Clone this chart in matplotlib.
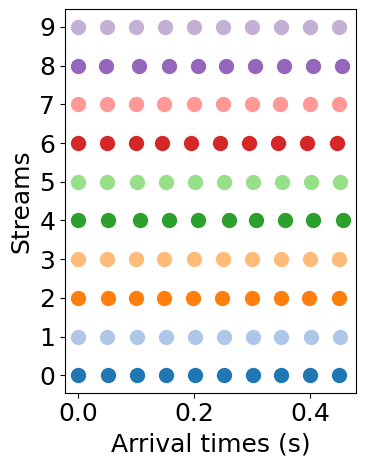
import matplotlib
matplotlib.use("Agg")
import matplotlib.pyplot as plt

streams = [0, 1, 2, 3, 4, 5, 6, 7, 8, 9]
arrivals = [
    [0.0, 0.052, 0.101, 0.151, 0.201, 0.251, 0.301, 0.349, 0.400, 0.450],  # 0
    [0.0, 0.050, 0.101, 0.151, 0.201, 0.251, 0.301, 0.350, 0.401, 0.451],  # 1
    [0.0, 0.052, 0.099, 0.148, 0.198, 0.248, 0.299, 0.349, 0.398, 0.449],  # 2
    [0.0, 0.049, 0.099, 0.148, 0.199, 0.249, 0.300, 0.350, 0.400, 0.449],  # 3
    [0.0, 0.052, 0.106, 0.156, 0.206, 0.260, 0.307, 0.356, 0.404, 0.456],  # 4
    [0.0, 0.050, 0.101, 0.151, 0.201, 0.251, 0.302, 0.351, 0.401, 0.451],  # 5
    [0.0, 0.049, 0.099, 0.144, 0.194, 0.245, 0.294, 0.344, 0.394, 0.446],  # 6
    [0.0, 0.050, 0.099, 0.148, 0.199, 0.249, 0.299, 0.348, 0.399, 0.450],  # 7
    [0.0, 0.048, 0.104, 0.156, 0.206, 0.255, 0.304, 0.354, 0.405, 0.455],  # 8
    [0.0, 0.050, 0.100, 0.150, 0.200, 0.250, 0.300, 0.350, 0.400, 0.450],  # 9
]
colors = plt.get_cmap("tab20").colors
xlabel = "Arrival times (s)"
ylabel = "Streams"

fig = plt.figure(figsize=(3.66, 4.67), dpi=100)
ax = fig.add_axes([0.1776, 0.159, 0.7951, 0.8207])
for s, times in zip(streams, arrivals):
    ax.scatter(times, [s] * len(times), s=100, color=colors[s])
ax.set_yticks(streams)
ax.set_xticks([0.0, 0.2, 0.4])
ax.tick_params(labelsize=18)
ax.set_xlabel(xlabel, fontsize=18)
ax.set_ylabel(ylabel, fontsize=18)
fig.savefig("out.png", dpi=100)
